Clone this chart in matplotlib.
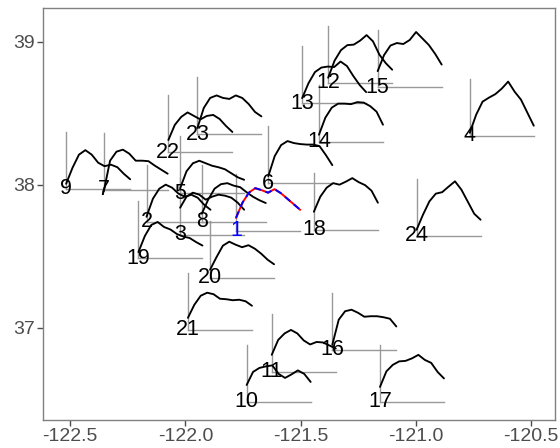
import numpy as np
import matplotlib
matplotlib.use("Agg")
import matplotlib.pyplot as plt

plt.rcParams['font.family'] = ['Liberation Sans', 'DejaVu Sans']

# station ids and locations (lower-left corner of each glyph)
station = list(range(1, 25))
lon = [-121.780, -122.169, -122.023, -120.765, -122.023, -121.640, -122.355, -121.929,
       -122.518, -121.734, -121.625, -121.380, -121.493, -121.420, -121.165, -121.362,
       -121.155, -121.442, -122.204, -121.893, -121.989, -122.074, -121.948, -120.996]
lat = [37.678, 37.741, 37.650, 38.343, 37.940, 38.011, 37.965, 37.741,
       37.972, 36.480, 36.693, 38.714, 38.571, 38.301, 38.683, 36.845,
       36.480, 37.685, 37.487, 37.349, 36.985, 38.229, 38.355, 37.643]

# glyph profiles, one row per station
profiles = [
    [13, 28, 38, 42.5, 40.5, 38, 41.5, 37.5, 32, 26.5, 21],
    [5, 23, 33, 37, 34, 28, 25, 27, 24, 17, 12],
    [27, 38, 42, 40, 35, 38, 40, 39, 37, 32, 25],
    [3, 21, 34, 38, 41.5, 47, 54, 44, 36, 23, 10],
    [5, 22, 30, 32.5, 30, 27.5, 26, 24, 20, 16, 13.5],
    [7, 27, 38, 42, 40, 39, 38.5, 38.5, 37, 28, 18],
    [-2, 29, 38, 40, 36, 29, 29, 28.5, 24, 20, 16],
    [8, 22, 33, 37.5, 38.5, 36, 34.5, 29.5, 25, 21.5, 18.7],
    [5, 21, 34, 38.5, 34, 26, 22.5, 24, 21.5, 15, 9.5],
    [17, 30, 34, 35.5, 36.5, 28, 24, 27.5, 31.5, 28, 20],
    [16.7, 31.5, 38, 41.5, 38, 31, 27, 29.5, 29, 26, 23],
    [5, 22, 32.5, 37.5, 38, 42, 47.5, 41.3, 28, 19.5, 13],
    [5, 20, 31, 35.5, 36.5, 36, 41.5, 37, 27, 18, 11],
    [7, 24, 34, 38, 38, 37.5, 39.5, 39, 35.5, 30, 17],
    [16, 32, 41.5, 44, 43, 47, 55, 48.5, 42, 33, 22.5],
    [5, 30, 38.5, 40, 37, 33, 33.5, 33.5, 32.5, 31, 23.3],
    [15, 30.5, 37, 40.5, 41, 43.5, 47, 42, 39, 30, 23.5],
    [18, 33, 42, 46.5, 45, 48, 51.5, 47.5, 44.5, 39, 27],
    [6, 22, 33, 36, 31, 28.5, 24, 21.5, 20, 16, 12.5],
    [8, 20.5, 32, 36, 33, 30.5, 32.5, 29, 24, 18, 13.5],
    [12, 25, 34, 37, 35.5, 31, 30.5, 29.5, 30, 28.5, 24],
    [12, 27, 35, 39.5, 36, 32.5, 36, 37, 33, 26, 20],
    [6, 26, 36, 38.5, 36, 35, 38.5, 36, 30, 22, 17.6],
    [6, 21, 34.3, 42, 43.5, 49, 54.3, 46, 34, 22, 16],
]
highlight = 1

glyph_w = 0.278
glyph_h = 0.40
vmax = 57.0

fig = plt.figure(figsize=(5.6, 4.48), dpi=100)
ax = fig.add_axes([0.077, 0.0625, 0.914, 0.92])

for sid, x0, y0, prof in zip(station, lon, lat, profiles):
    prof = np.array(prof)
    xs = x0 + np.linspace(0, 1, len(prof)) * glyph_w
    ys = y0 + prof / vmax * glyph_h
    ax.plot([x0, x0], [y0, y0 + glyph_h], color="#999999", lw=1.0, zorder=1)
    ax.plot([x0, x0 + glyph_w], [y0, y0], color="#999999", lw=1.0, zorder=1)
    if sid == highlight:
        ax.plot(xs, ys, color="red", lw=1.4, zorder=3)
        ax.plot(xs, ys, color="blue", lw=1.4, dashes=(3.5, 2.5), zorder=3)
        col = "blue"
    else:
        ax.plot(xs, ys, color="black", lw=1.35, zorder=2,
                solid_joinstyle="round", solid_capstyle="round")
        col = "black"
    ax.text(x0, y0, str(sid), ha="center", va="center", fontsize=15.5, color=col, zorder=4)

ax.set_xlim(-122.618, -120.395)
ax.set_ylim(36.354, 39.238)
ax.set_xticks([-122.5, -122.0, -121.5, -121.0, -120.5])
ax.set_xticklabels(["-122.5", "-122.0", "-121.5", "-121.0", "-120.5"])
ax.set_yticks([37, 38, 39])
ax.tick_params(colors="#4d4d4d", labelsize=14, length=4, width=1, pad=2)
for s in ax.spines.values():
    s.set_color("#808080")
    s.set_linewidth(1.0)

fig.savefig("out.png", dpi=100)
